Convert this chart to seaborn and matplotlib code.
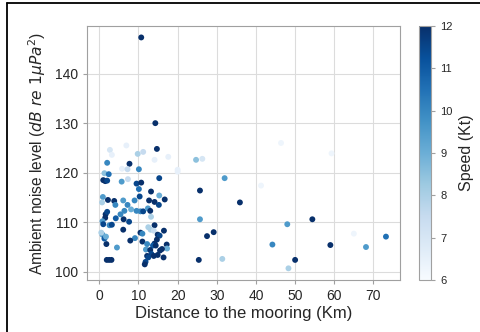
import matplotlib
matplotlib.use("Agg")
import matplotlib.pyplot as plt
import seaborn as sns
import numpy as np
import pandas as pd
from matplotlib.lines import Line2D

# --- data ---
distance_km = [
    10.7, 14.3, 2.7, 6.9, 2.0, 7.7, 9.8, 11.2, 14.7, 17.6,
    14.1, 5.8, 7.2, 10.1, 3.2, 1.3, 2.4, 1.0, 1.5, 2.0,
    5.7, 7.3, 9.5, 10.7, 10.1, 13.2, 15.3, 20.0, 20.0, 24.7,
    26.3, 32.0, 25.7, 41.3, 46.4, 59.3, 35.9, 10.3, 12.7, 14.1,
    15.2, 16.7, 15.3, 0.9, 0.7, 2.2, 3.8, 4.1, 6.1, 7.2,
    9.0, 5.4, 6.4, 8.1, 9.5, 10.5, 11.2, 12.4, 13.0, 13.2,
    1.6, 2.0, 1.5, 4.2, 6.2, 7.6, 0.8, 1.0, 2.6, 3.2,
    6.1, 14.1, 12.5, 13.1, 13.9, 16.5, 10.5, 9.1, 7.9, 11.0,
    11.0, 14.9, 15.4, 14.7, 14.1, 13.7, 14.4, 12.2, 11.9, 17.2,
    17.3, 16.0, 15.5, 13.0, 13.3, 12.2, 12.5, 11.8, 11.6, 13.9,
    14.9, 16.4, 4.5, 1.8, 0.8, 1.3, 1.7, 0.5, 1.9, 2.5,
    3.1, 25.4, 31.4, 48.3, 50.0, 25.7, 27.5, 29.2, 44.2, 48.0,
    54.4, 59.0, 65.0, 68.1, 73.2,
]
noise_db = [
    147.3, 130.0, 124.6, 125.5, 122.0, 121.8, 123.8, 124.2, 124.8, 123.2,
    122.6, 120.8, 120.7, 120.7, 123.6, 119.9, 119.7, 118.5, 118.3, 118.4,
    118.2, 118.7, 117.8, 118.0, 116.7, 116.2, 118.9, 120.2, 120.6, 122.6,
    122.8, 118.9, 116.4, 117.4, 126.0, 123.9, 114.0, 115.2, 114.4, 114.1,
    113.5, 114.6, 115.4, 115.1, 114.0, 114.5, 114.3, 113.5, 114.4, 113.5,
    114.4, 111.6, 112.3, 112.6, 112.3, 112.2, 112.2, 112.8, 112.3, 111.1,
    111.6, 112.1, 110.9, 110.8, 110.6, 110.1, 110.2, 109.6, 109.4, 109.5,
    108.5, 109.4, 109.0, 108.5, 108.3, 108.3, 107.9, 106.8, 106.3, 107.7,
    106.1, 107.5, 107.3, 106.5, 105.7, 105.3, 105.3, 105.6, 104.5, 105.5,
    104.7, 104.6, 104.3, 104.4, 103.6, 103.2, 102.9, 102.0, 101.5, 103.2,
    103.4, 102.9, 104.9, 105.6, 107.5, 106.7, 107.1, 107.9, 102.4, 102.4,
    102.4, 102.4, 102.6, 100.7, 102.4, 110.6, 107.2, 108.0, 105.5, 109.6,
    110.6, 105.4, 107.7, 105.0, 107.1,
]
speed_kt = [
    12, 12, 7, 6.5, 10, 12, 8, 7.5, 12, 6.5,
    6.5, 6.5, 7.5, 10, 6.5, 8.5, 10.5, 12, 12, 11.5,
    9.5, 7.5, 11.5, 12, 10.5, 12, 11.5, 6.5, 6.5, 8.5,
    7, 9.5, 12, 6.3, 6.3, 6.3, 12, 11.5, 12, 12,
    11.5, 12, 9, 9.5, 8, 12, 12, 10, 9.5, 10,
    10, 10, 10, 9, 10, 10, 11.5, 9.5, 12, 8,
    12, 11.5, 12, 11, 12, 11.5, 9.5, 11.5, 10, 11.5,
    12, 12, 8, 8, 7.5, 12, 12, 10, 12, 10,
    12, 12, 11.5, 12, 12, 11, 12, 10, 9.5, 12,
    9, 12, 12, 12, 11.5, 12, 11.5, 11.5, 12, 12,
    12, 12, 9.5, 12, 9.5, 11, 9, 8, 12, 12,
    12, 12, 8, 8, 12, 9.5, 12, 12, 10, 9.5,
    12, 12, 6.3, 9.5, 10.5,
]
x_ticks = [0, 10, 20, 30, 40, 50, 60, 70]
y_ticks = [100, 110, 120, 130, 140]
speed_ticks = [6, 7, 8, 9, 10, 11, 12]

df = pd.DataFrame({"distance": distance_km, "noise": noise_db, "speed": speed_kt})

sns.set_style("whitegrid", {"grid.color": "#dcdcdc", "axes.edgecolor": "#a0a0a0"})
plt.rcParams["font.family"] = ["Liberation Sans", "DejaVu Sans"]

fig = plt.figure(figsize=(4.81, 3.32), dpi=100)
ax = fig.add_axes([0.181, 0.157, 0.651, 0.765])
cax = fig.add_axes([0.871, 0.157, 0.025, 0.765])

norm = plt.Normalize(6, 12)
sns.scatterplot(data=df, x="distance", y="noise", hue="speed", palette="Blues",
                hue_norm=norm, s=18, linewidth=0, legend=False, ax=ax)

ax.set_xticks(x_ticks)
ax.set_yticks(y_ticks)
ax.tick_params(labelsize=10, length=3, color="#a0a0a0", left=True, bottom=True)
ax.set_xlabel("Distance to the mooring (Km)", fontsize=12, labelpad=2)
ax.set_ylabel(r"Ambient noise level ($dB\ re\ 1\mu Pa^2$)", fontsize=11.2, labelpad=5)
for sp in ax.spines.values():
    sp.set_linewidth(0.8)

sm = plt.cm.ScalarMappable(cmap="Blues", norm=norm)
cb = fig.colorbar(sm, cax=cax, ticks=speed_ticks)
cb.outline.set_edgecolor("#a0a0a0")
cb.outline.set_linewidth(0.8)
cax.tick_params(labelsize=8, length=3, color="#a0a0a0")
cb.set_label("Speed (Kt)", fontsize=11.5, labelpad=5)

# frame lines visible on the top and left edge of the reference image
fig.add_artist(Line2D([0.015, 0.015], [0, 0.991], color="black", lw=1.3, transform=fig.transFigure))
fig.add_artist(Line2D([0.015, 1], [0.991, 0.991], color="black", lw=1.3, transform=fig.transFigure))

fig.savefig("out.png", dpi=100)
